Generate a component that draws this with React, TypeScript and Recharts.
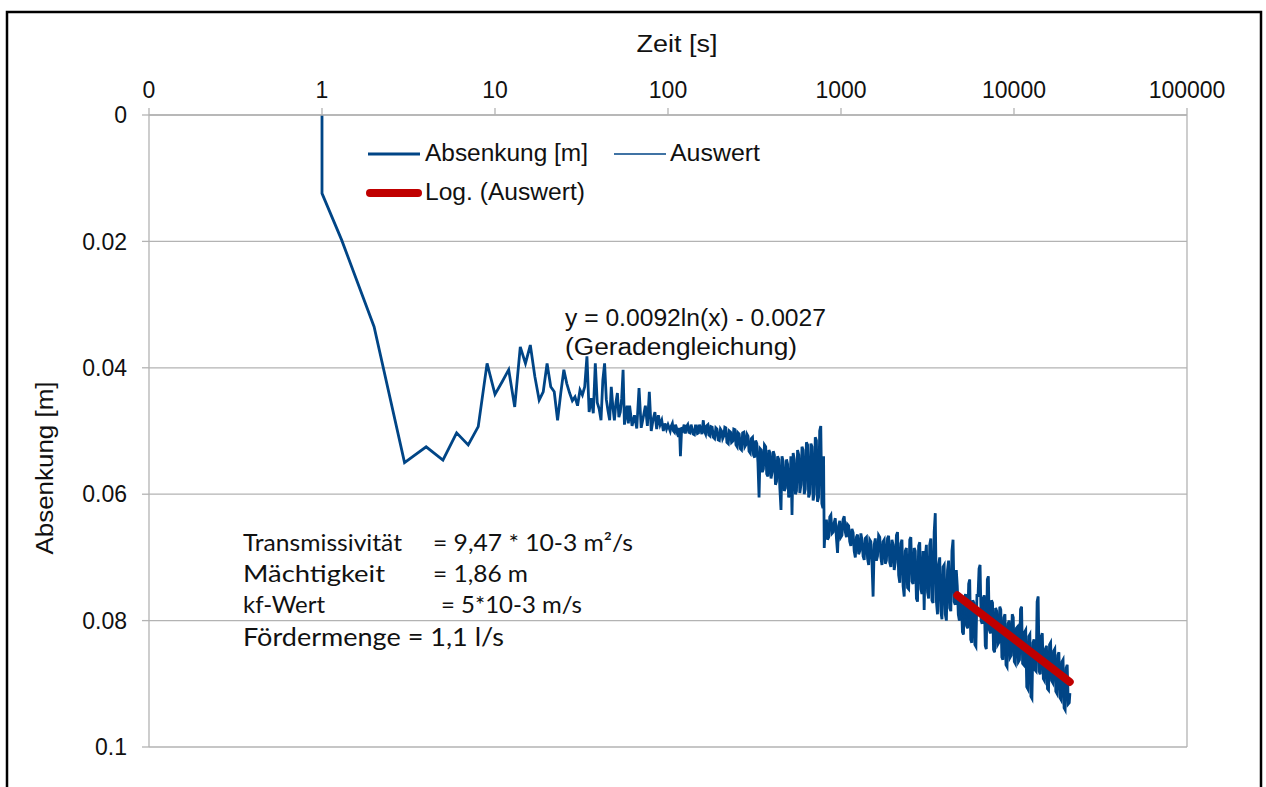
import React from "react";
import { LineChart, Line, XAxis, YAxis, CartesianGrid, ReferenceLine } from "recharts";

// Zeit [s] vs. Absenkung [m] — measured pumping test (Pumpversuch)
const anlaufPhase: [number, number][] = [
  [1, 0], [1, 0.0124], [1.3, 0.0198], [2, 0.0335], [3, 0.055], [4, 0.0525], [5, 0.0546],
  [6, 0.0503], [7, 0.0522], [8, 0.0493], [9, 0.0393], [10, 0.0442], [11, 0.0422], [12, 0.0403],
  [13, 0.0462], [14, 0.0367], [15, 0.0393], [16, 0.0364], [17, 0.0414], [18, 0.0451], [19, 0.0438],
  [20, 0.0393], [21, 0.043], [22, 0.0438], [23, 0.0483], [24, 0.044],
];

const fruehPhase: [number, number][] = [
  [25, 0.0403], [26, 0.0425], [27, 0.044], [28, 0.0452], [29, 0.0446], [30, 0.046], [31, 0.0435],
  [32, 0.0443], [33, 0.043], [34, 0.0382], [35, 0.047], [36, 0.0448], [37, 0.0472], [38, 0.0393],
  [39, 0.0455], [40, 0.0465], [41, 0.0483], [42, 0.042], [43, 0.0393], [44, 0.045], [45, 0.0468],
  [46, 0.0483], [47, 0.043], [48, 0.0462], [49, 0.0483], [50, 0.0455], [51, 0.044], [52, 0.0478],
  [53, 0.047], [54, 0.0448], [55, 0.0403], [56, 0.049], [57, 0.0475], [58, 0.046], [59, 0.0488],
  [60, 0.046], [62, 0.0492], [64, 0.0475], [66, 0.0496], [68, 0.0432], [70, 0.0495], [72, 0.0478],
  [74, 0.046], [76, 0.0492], [78, 0.0438], [80, 0.05], [82, 0.0482], [84, 0.047], [86, 0.0497],
  [88, 0.0475], [90, 0.049], [92, 0.0483], [94, 0.05], [96, 0.0488], [98, 0.0497], [100, 0.049],
];

const mittelPhase: [number, number][] = [
  [103, 0.05], [104.5, 0.0492], [106, 0.0488], [107.5, 0.05], [109, 0.0502], [110.5, 0.049], [112, 0.0495],
  [113.5, 0.0505], [115, 0.0509], [116.5, 0.0495], [118, 0.054], [120, 0.0494], [122, 0.0498], [124, 0.049],
  [126, 0.0504], [128, 0.0493], [130, 0.049], [132, 0.0502], [134, 0.0503], [136, 0.049], [138, 0.0497],
  [140, 0.0505], [142, 0.0506], [144, 0.0492], [146, 0.0492], [148, 0.0504], [150, 0.0503], [152, 0.049],
  [155, 0.0498], [157, 0.0505], [160, 0.0483], [162, 0.05], [165, 0.0505], [167, 0.0492], [170, 0.049],
  [172, 0.0506], [175, 0.0508], [177, 0.0493], [180, 0.0494], [183, 0.051], [186, 0.0512], [189, 0.0495],
  [192, 0.0497], [195, 0.0514], [198, 0.0515], [201, 0.0497], [204, 0.05], [207, 0.0512], [210, 0.0508],
  [213, 0.0494], [216, 0.0495], [219, 0.0518], [223, 0.052], [226, 0.05], [230, 0.0502], [233, 0.0518],
  [237, 0.0516], [240, 0.0497], [244, 0.0498], [247, 0.0522], [251, 0.0525], [254, 0.0503], [258, 0.0505],
  [262, 0.0528], [266, 0.053], [270, 0.0503], [274, 0.0502], [278, 0.0525], [282, 0.0522], [286, 0.0505],
  [290, 0.0508], [294, 0.0532], [299, 0.0535], [303, 0.0512], [308, 0.051], [312, 0.0538], [317, 0.0542],
  [321, 0.0515], [326, 0.052], [331, 0.055], [336, 0.0605], [341, 0.0528], [346, 0.053], [351, 0.0565],
  [356, 0.056], [361, 0.0522], [367, 0.0525], [372, 0.0568], [378, 0.0572], [383, 0.053], [389, 0.0535],
  [394, 0.0575], [400, 0.0565], [406, 0.0532], [412, 0.0538], [418, 0.0585], [424, 0.058], [430, 0.054],
  [437, 0.0545], [443, 0.059], [450, 0.0625], [456, 0.054], [463, 0.0548], [470, 0.0595], [477, 0.059],
  [484, 0.0545], [491, 0.0552], [498, 0.0605], [506, 0.06], [513, 0.054], [521, 0.0633], [529, 0.0535],
  [537, 0.0545], [545, 0.06], [553, 0.0595], [561, 0.053], [570, 0.0538], [578, 0.0598], [587, 0.0585],
  [595, 0.0525], [604, 0.053], [613, 0.06], [622, 0.0592], [631, 0.0518], [641, 0.0522], [650, 0.0605],
  [660, 0.0598], [670, 0.052], [680, 0.0525], [690, 0.061], [700, 0.06], [710, 0.051], [721, 0.0515],
  [731, 0.0612], [742, 0.0605], [753, 0.05], [764, 0.0492], [775, 0.0615], [786, 0.0622], [793, 0.054],
];

const spaetPhase: [number, number][] = [
  [800, 0.0685], [812, 0.065], [824, 0.064], [836, 0.0672], [849, 0.0668], [861, 0.0636], [874, 0.0633],
  [887, 0.0662], [900, 0.066], [913, 0.0645], [927, 0.0638], [941, 0.067], [955, 0.0693], [969, 0.065],
  [984, 0.0642], [998, 0.0668], [1013, 0.0665], [1028, 0.064], [1044, 0.0635], [1059, 0.066], [1075, 0.0668],
  [1091, 0.0648], [1107, 0.065], [1123, 0.0675], [1140, 0.0682], [1157, 0.0655], [1175, 0.0661],
  [1192, 0.069], [1210, 0.07], [1228, 0.0668], [1246, 0.0664], [1265, 0.0695], [1284, 0.069], [1303, 0.0662],
  [1322, 0.0672], [1342, 0.0698], [1362, 0.0704], [1382, 0.067], [1403, 0.0668], [1424, 0.0702],
  [1445, 0.0712], [1466, 0.0672], [1488, 0.0675], [1510, 0.0708], [1533, 0.0762], [1556, 0.068],
  [1579, 0.067], [1602, 0.0705], [1626, 0.0698], [1650, 0.0665], [1675, 0.0668], [1700, 0.07], [1725, 0.0712],
  [1751, 0.0675], [1777, 0.0672], [1803, 0.071], [1830, 0.0705], [1857, 0.067], [1885, 0.0666], [1913, 0.0708],
  [1942, 0.0715], [1971, 0.0672], [2000, 0.068], [2030, 0.072], [2060, 0.0708], [2091, 0.0665], [2122, 0.066],
  [2154, 0.0728], [2186, 0.074], [2218, 0.0678], [2251, 0.0672], [2285, 0.0745], [2319, 0.0762], [2353, 0.069],
  [2388, 0.0685], [2424, 0.0748], [2460, 0.075], [2497, 0.0672], [2534, 0.0668], [2572, 0.0738], [2610, 0.0742],
  [2649, 0.0685], [2688, 0.069], [2728, 0.0765], [2769, 0.077], [2810, 0.0682], [2852, 0.0676], [2894, 0.075],
  [2937, 0.0758], [2981, 0.069], [3025, 0.0783], [3070, 0.07], [3116, 0.068], [3163, 0.0755], [3210, 0.0765],
  [3258, 0.068], [3306, 0.067], [3355, 0.0768], [3405, 0.0772], [3456, 0.066], [3507, 0.063], [3560, 0.077],
  [3613, 0.079], [3667, 0.0712], [3721, 0.07], [3777, 0.0785], [3833, 0.0798], [3890, 0.0715], [3948, 0.0712],
  [4007, 0.079], [4066, 0.08], [4127, 0.072], [4188, 0.0705], [4250, 0.078], [4314, 0.0785], [4378, 0.069],
  [4443, 0.0672], [4510, 0.077], [4577, 0.0775], [4640, 0.072],
];

const auswertPhase: [number, number][] = [
  [4700, 0.0745], [4765, 0.079], [4830, 0.08], [4897, 0.076], [4965, 0.077], [5034, 0.0818], [5104, 0.0822],
  [5175, 0.0765], [5247, 0.0758], [5320, 0.0808], [5394, 0.0812], [5469, 0.0742], [5545, 0.0735],
  [5622, 0.083], [5700, 0.0835], [5780, 0.0768], [5860, 0.0772], [5941, 0.0838], [6024, 0.0841],
  [6108, 0.0758], [6193, 0.0762], [6279, 0.0718], [6366, 0.0712], [6454, 0.08], [6544, 0.0805],
  [6635, 0.0765], [6727, 0.076], [6821, 0.084], [6916, 0.0845], [7012, 0.0735], [7109, 0.073], [7208, 0.0815],
  [7308, 0.082], [7410, 0.0768], [7513, 0.0772], [7617, 0.0846], [7723, 0.085], [7831, 0.078], [7940, 0.0785],
  [8050, 0.0838], [8162, 0.0835], [8275, 0.0778], [8390, 0.0783], [8507, 0.0858], [8625, 0.0862],
  [8745, 0.0795], [8867, 0.079], [8990, 0.087], [9115, 0.0873], [9242, 0.0805], [9370, 0.08], [9501, 0.0858],
  [9633, 0.0855], [9767, 0.079], [9902, 0.0795], [10040, 0.0865], [10180, 0.0868], [10321, 0.0812],
  [10465, 0.081], [10610, 0.0865], [10758, 0.0862], [10907, 0.0782], [11059, 0.0778], [11213, 0.0868],
  [11369, 0.087], [11527, 0.0818], [11687, 0.0815], [11849, 0.0905], [12014, 0.0908], [12181, 0.0825],
  [12350, 0.0822], [12522, 0.092], [12696, 0.0923], [12873, 0.0835], [13052, 0.083], [13233, 0.0878],
  [13417, 0.088], [13604, 0.077], [13793, 0.0762], [13985, 0.088], [14179, 0.0885], [14376, 0.0825],
  [14576, 0.082], [14779, 0.0892], [14984, 0.0895], [15192, 0.0845], [15404, 0.084], [15618, 0.0908],
  [15835, 0.091], [16055, 0.0838], [16279, 0.0835], [16505, 0.0895], [16735, 0.0898], [16968, 0.0848],
  [17203, 0.0845], [17443, 0.0912], [17685, 0.0915], [17931, 0.0855], [18180, 0.085], [18433, 0.0922],
  [18689, 0.0925], [18949, 0.0865], [19212, 0.0862], [19479, 0.0938], [19750, 0.0941], [20025, 0.0875],
  [20303, 0.087], [20586, 0.0932], [20872, 0.093], [21040, 0.0915],
];

// Log. (Auswert): y = 0.0092 ln(x) - 0.0027, end points
const trendLinie: [number, number][] = [[4700, 0.076], [21000, 0.0897]];

const zeitTicks = [0.1, 1, 10, 100, 1000, 10000, 100000];
const absenkungTicks = [0, 0.02, 0.04, 0.06, 0.08, 0.1];

const toRows = (arr: [number, number][]) => arr.map(([t, y]) => ({ t, y }));

const absenkungData = toRows([...anlaufPhase, ...fruehPhase, ...mittelPhase, ...spaetPhase, ...auswertPhase]);
const auswertData = toRows(auswertPhase);
const trendData = toRows(trendLinie);

const BLUE = "#004586";
const RED = "#c00000";
const GRID = "#b3b3b3";
const ARIAL = "'Liberation Sans', Arial, sans-serif";
const CAL = "Lato, 'Open Sans', sans-serif";

const LegendBox = () => (
  <g transform="translate(360,130)">
    <line x1={8} y1={24} x2={60} y2={24} stroke={BLUE} strokeWidth={3} />
    <text x={65} y={31} fontFamily={ARIAL} fontSize={23} fill="#111" textLength={163} lengthAdjust="spacingAndGlyphs">Absenkung [m]</text>
    <line x1={254} y1={24} x2={306} y2={24} stroke={BLUE} strokeWidth={1.3} />
    <text x={310} y={31} fontFamily={ARIAL} fontSize={23} fill="#111" textLength={90} lengthAdjust="spacingAndGlyphs">Auswert</text>
    <line x1={10} y1={63} x2={58} y2={63} stroke={RED} strokeWidth={8} strokeLinecap="round" />
    <text x={65} y={70} fontFamily={ARIAL} fontSize={23} fill="#111" textLength={160} lengthAdjust="spacingAndGlyphs">Log. (Auswert)</text>
  </g>
);

export default function App() {
  return (
    <div style={{ position: "absolute", left: 0, top: 0, width: 1266, height: 787, background: "#fff", overflow: "hidden" }}>
      <LineChart width={1266} height={787} margin={{ top: 75, right: 79, bottom: 40, left: 69 }}>
        <CartesianGrid vertical={false} stroke={GRID} strokeWidth={1.3} />
        <XAxis
          type="number"
          dataKey="t"
          scale="log"
          domain={[0.1, 100000]}
          ticks={zeitTicks}
          allowDataOverflow
          orientation="top"
          height={40}
          axisLine={{ stroke: GRID, strokeWidth: 1.3 }}
          tickLine={{ stroke: GRID, strokeWidth: 1.3 }}
          tickSize={7}
          tickMargin={10}
          tick={{ fill: "#111", fontSize: 23, fontFamily: ARIAL }}
          tickFormatter={(v: number) => (v < 1 ? "0" : String(v))}
        />
        <YAxis
          type="number"
          domain={[0, 0.1]}
          reversed
          ticks={absenkungTicks}
          width={80}
          axisLine={{ stroke: GRID, strokeWidth: 1.3 }}
          tickLine={{ stroke: GRID, strokeWidth: 1.3 }}
          tickSize={7}
          tickMargin={15}
          tick={{ fill: "#111", fontSize: 23, fontFamily: ARIAL }}
          tickFormatter={(v: number) => String(v)}
        />
        <ReferenceLine x={100000} stroke={GRID} strokeWidth={1.3} />
        <Line data={absenkungData} dataKey="y" name="Absenkung [m]" stroke={BLUE} strokeWidth={2.8} dot={false} isAnimationActive={false} />
        <Line data={auswertData} dataKey="y" name="Auswert" stroke={BLUE} strokeWidth={1.2} dot={false} isAnimationActive={false} />
        <Line data={trendData} dataKey="y" name="Log. (Auswert)" stroke={RED} strokeWidth={8} strokeLinecap="round" dot={false} isAnimationActive={false} />
      </LineChart>
      <svg width={1266} height={787} style={{ position: "absolute", left: 0, top: 0, pointerEvents: "none" }}>
        <rect x={7} y={12} width={1254} height={800} fill="none" stroke="#000" strokeWidth={2.5} />
        <LegendBox />
        <text x={677} y={52} textAnchor="middle" fontFamily={ARIAL} fontSize={23} fill="#111" textLength={81} lengthAdjust="spacingAndGlyphs">Zeit [s]</text>
        <text x={53} y={468} transform="rotate(-90 53 468)" textAnchor="middle" fontFamily={ARIAL} fontSize={23} fill="#111" textLength={173} lengthAdjust="spacingAndGlyphs">Absenkung [m]</text>
        <text x={565} y={326} fontFamily={ARIAL} fontSize={23} fill="#111" textLength={261} lengthAdjust="spacingAndGlyphs">y = 0.0092ln(x) - 0.0027</text>
        <text x={565} y={355} fontFamily={ARIAL} fontSize={23} fill="#111" textLength={232} lengthAdjust="spacingAndGlyphs">(Geradengleichung)</text>
        <g fontFamily={CAL} fill="#111" fontSize={23}>
          <text x={243} y={551} textLength={159} lengthAdjust="spacingAndGlyphs">Transmissivität</text>
          <text x={433} y={551} textLength={200} lengthAdjust="spacingAndGlyphs">= 9,47 * 10-3 m²/s</text>
          <text x={243} y={582} textLength={142} lengthAdjust="spacingAndGlyphs">Mächtigkeit</text>
          <text x={433} y={582} textLength={95} lengthAdjust="spacingAndGlyphs">= 1,86 m</text>
          <text x={243} y={613} textLength={82} lengthAdjust="spacingAndGlyphs">kf-Wert</text>
          <text x={441} y={613} textLength={141} lengthAdjust="spacingAndGlyphs">= 5*10-3 m/s</text>
          <text x={243} y={646} fontSize={25} textLength={261} lengthAdjust="spacingAndGlyphs">Fördermenge = 1,1 l/s</text>
        </g>
      </svg>
    </div>
  );
}
